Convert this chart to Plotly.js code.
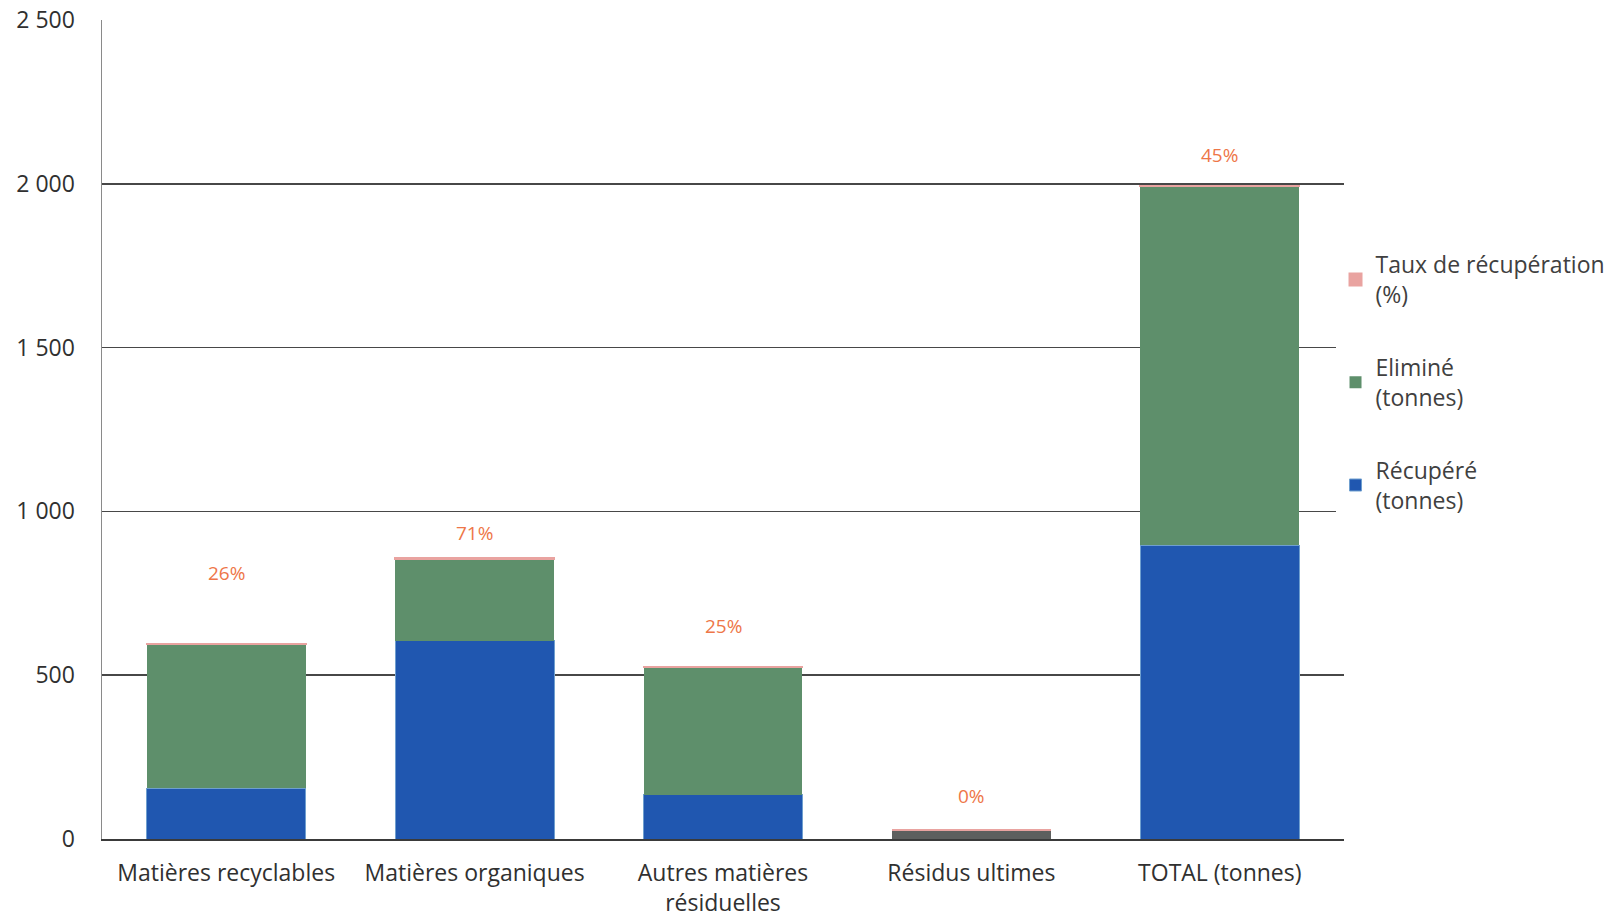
<!DOCTYPE html>
<html>
<head>
<meta charset="utf-8">
<script src="https://cdn.plot.ly/plotly-3.0.1.min.js"></script>
<style>html,body{margin:0;padding:0;background:#fff;}#chart{width:1611px;height:917px;}</style>
</head>
<body>
<div id="chart"></div>
<script>
// ---- data ----
var categories = ["Matières recyclables", "Matières organiques", "Autres matières<br>résiduelles", "Résidus ultimes", "TOTAL (tonnes)"];
var recupere = [155, 605, 135, 0, 897];          // Récupéré (tonnes)
var elimine = [441, 251, 389, 28, 1095];          // Eliminé (tonnes)
var tauxRecup = [0.26, 0.71, 0.25, 0, 0.45];       // Taux de récupération (%)
var tauxLabels = ["26%", "71%", "25%", "0%", "45%"];
var yTicks = [0, 500, 1000, 1500, 2000, 2500];
var yTickText = ["0", "500", "1 000", "1 500", "2 000", "2 500"];

// ---- styling (not data) ----
var labelShift = [71, 25, 41, 34, 31];
var FONT = "Open Sans, sans-serif";
var elimColors = ["#5e8f6b", "#5e8f6b", "#5e8f6b", "#5d5f5e", "#5e8f6b"];

var traces = [
  {type: "bar", name: "Récupéré<br>(tonnes)", x: categories, y: recupere, legendrank: 3,
   marker: {color: "#2057b0", line: {color: "#6f9fcf", width: 1}}, legendgroup: "a", hoverinfo: "x+y"},
  {type: "bar", name: "Eliminé<br>(tonnes)", x: categories, y: elimine, legendrank: 2,
   marker: {color: elimColors, line: {width: 0}}, legendgroup: "b", hoverinfo: "x+y"},
  {type: "bar", name: "Taux de récupération<br>(%)", x: categories, y: tauxRecup, legendrank: 1,
   marker: {color: "#e9a3a0", line: {color: "#e9a3a0", width: 2}}, legendgroup: "c", hoverinfo: "x+y"}
];

var annotations = categories.map(function (c, i) {
  return {x: c, y: recupere[i] + elimine[i] + tauxRecup[i], xref: "x", yref: "y",
          text: tauxLabels[i], showarrow: false, yshift: labelShift[i],
          font: {family: FONT, size: 19, color: "#ee7648"}};
});

var layout = {
  width: 1611, height: 917,
  margin: {l: 102, r: 267, t: 20, b: 78, autoexpand: false},
  paper_bgcolor: "#ffffff", plot_bgcolor: "#ffffff",
  barmode: "stack", bargap: 0.36,
  showlegend: true,
  legend: {xref: "container", yref: "container", x: 0.829, xanchor: "left", y: 0.735, yanchor: "top",
           traceorder: "grouped", tracegroupgap: 40,
           font: {family: FONT, size: 23, color: "#404040"}, itemwidth: 30},
  xaxis: {type: "category", showgrid: false, showline: true, linecolor: "#3a3a3a", linewidth: 1.5,
          ticks: "", ticklabelstandoff: 13, tickfont: {family: FONT, size: 23, color: "#303030"}},
  yaxis: {range: [0, 2500], tickvals: yTicks, ticktext: yTickText, showgrid: true,
          gridcolor: "#474747", gridwidth: 1.5, zeroline: false, showline: true,
          linecolor: "#8a8a8a", linewidth: 1.5, ticks: "", ticklabelstandoff: 21,
          tickfont: {family: FONT, size: 23, color: "#303030"}},
  annotations: annotations
};

Plotly.newPlot("chart", traces, layout, {displayModeBar: false, staticPlot: true});
</script>
</body>
</html>
